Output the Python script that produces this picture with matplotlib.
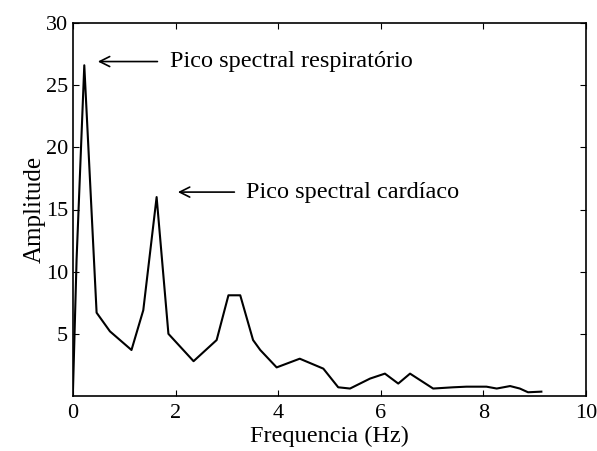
import matplotlib.pyplot as plt

# spectrum
freq = [0.0, 0.07, 0.22, 0.46, 0.72, 1.14, 1.37, 1.63, 1.86, 2.35, 2.8, 3.03,
        3.26, 3.51, 3.65, 3.97, 4.42, 4.88, 5.17, 5.4, 5.79, 6.08, 6.34, 6.57,
        7.02, 7.41, 7.67, 8.06, 8.26, 8.52, 8.71, 8.87, 9.13]
amp = [0.5, 11.0, 26.6, 6.7, 5.2, 3.7, 6.9, 16.0, 5.0, 2.8, 4.5, 8.1,
       8.1, 4.5, 3.7, 2.3, 3.0, 2.2, 0.7, 0.6, 1.4, 1.8, 1.0, 1.8,
       0.6, 0.7, 0.75, 0.75, 0.6, 0.8, 0.6, 0.3, 0.35]

xticks = [0, 2, 4, 6, 8, 10]
yticks = [5, 10, 15, 20, 25, 30]

plt.rcParams['font.family'] = 'Liberation Serif'

fig = plt.figure(figsize=(5.97, 4.51), dpi=100)
ax = fig.add_axes([73 / 597, 1 - 396 / 451, 513 / 597, 373 / 451])

ax.plot(freq, amp, color='black', lw=1.5)
ax.set_xlim(0, 10)
ax.set_ylim(0, 30)
ax.set_xticks(xticks)
ax.set_yticks(yticks)
ax.tick_params(direction='in', top=True, right=True, labelsize=16, length=4)
ax.tick_params(axis='x', pad=6)
for s in ax.spines.values():
    s.set_linewidth(1.2)

ax.set_xlabel('Frequencia (Hz)', fontsize=17.5, labelpad=2)
ax.set_ylabel('Amplitude', fontsize=18, labelpad=0)

arrow = dict(arrowstyle='->', color='black', lw=1.2, mutation_scale=18)
ax.annotate('', xy=(0.43, 26.9), xytext=(1.7, 26.9), arrowprops=arrow)
ax.text(1.89, 26.9, 'Pico spectral respiratório', fontsize=17.5, va='center')
ax.annotate('', xy=(1.99, 16.4), xytext=(3.2, 16.4), arrowprops=arrow)
ax.text(3.38, 16.4, 'Pico spectral cardíaco', fontsize=17.5, va='center')

plt.savefig('out.png', dpi=100)
